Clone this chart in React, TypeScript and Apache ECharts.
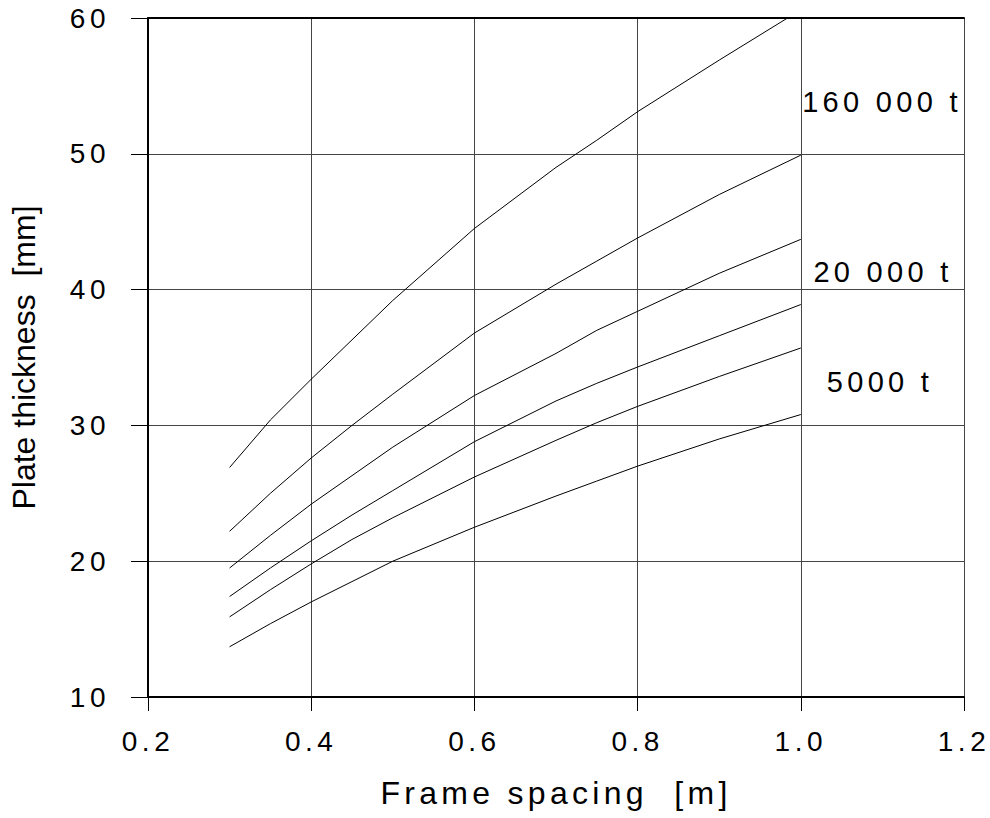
import React, { useEffect, useRef } from "react";
import * as echarts from "echarts";

const xValues = [0.3, 0.35, 0.4, 0.45, 0.5, 0.6, 0.7, 0.75, 0.8, 0.9, 1.0];
const curve160000 = [26.9, 30.4, 33.4, 36.3, 39.2, 44.5, 49.0, 51.0, 53.1, 56.9, 60.6];
const curveB = [22.2, 25.0, 27.6, 30.0, 32.3, 36.8, 40.4, 42.1, 43.8, 47.0, 49.9];
const curve20000 = [19.5, 21.9, 24.2, 26.3, 28.4, 32.2, 35.3, 37.0, 38.4, 41.2, 43.7];
const curveD = [17.4, 19.5, 21.5, 23.4, 25.2, 28.8, 31.8, 33.1, 34.3, 36.6, 38.9];
const curve5000 = [15.9, 17.9, 19.8, 21.6, 23.2, 26.2, 28.9, 30.2, 31.4, 33.6, 35.7];
const curveF = [13.7, 15.4, 17.0, 18.5, 20.0, 22.5, 24.8, 25.9, 27.0, 29.0, 30.8];
const curves = [curve160000, curveB, curve20000, curveD, curve5000, curveF];
const curveLabels = ["160 000 t", "20 000 t", "5000 t"];
const xTitle = "Frame spacing  [m]";
const yTitle = "Plate thickness  [mm]";

const font = "'Liberation Sans', Arial, sans-serif";

function spacingFor(t: string): number {
  if (t === yTitle) return 0;
  if (t === xTitle) return 4.3;
  if (curveLabels.indexOf(t) >= 0) return 4.3;
  return 4.5;
}

export default function App() {
  const ref = useRef<HTMLDivElement>(null);
  useEffect(() => {
    if (!ref.current) return;
    const el = ref.current;
    const chart = echarts.init(el, null, { renderer: "svg" });
    chart.setOption({
      animation: false,
      backgroundColor: "#fff",
      grid: { left: 148, right: 26, top: 18, bottom: 121, containLabel: false, outerBoundsMode: "none" } as any,
      xAxis: [
        {
          type: "value",
          min: 0.2,
          max: 1.2,
          interval: 0.2,
          name: xTitle,
          nameLocation: "middle",
          nameGap: 80,
          nameTextStyle: { fontFamily: font, fontSize: 32, color: "#000" },
          axisLine: { lineStyle: { color: "#000", width: 2 } },
          axisTick: { show: true, length: 14, lineStyle: { color: "#000", width: 1 } },
          axisLabel: {
            margin: 30,
            fontFamily: font,
            fontSize: 28,
            color: "#000",
            formatter: (v: number) => v.toFixed(1),
          },
          splitLine: { show: true, lineStyle: { color: "#444", width: 1 } },
        },
        {
          type: "value",
          position: "top",
          min: 0.2,
          max: 1.2,
          interval: 0.2,
          axisLine: { show: true, lineStyle: { color: "#000", width: 2 } },
          axisTick: { show: false },
          axisLabel: { show: false },
          splitLine: { show: false },
        },
      ],
      yAxis: {
        type: "value",
        min: 10,
        max: 60,
        interval: 10,
        name: yTitle,
        nameLocation: "middle",
        nameGap: 108,
        nameTextStyle: { fontFamily: font, fontSize: 32, color: "#000" },
        axisLine: { show: true, lineStyle: { color: "#000", width: 2 } },
        axisTick: { show: true, length: 17, lineStyle: { color: "#000", width: 1 } },
        axisLabel: { margin: 38, fontFamily: font, fontSize: 28, color: "#000" },
        splitLine: { show: true, lineStyle: { color: "#444", width: 1 } },
      },
      series: curves.map((c) => ({
        type: "line",
        data: xValues.map((x, i) => [x, c[i]]),
        showSymbol: false,
        symbol: "none",
        lineStyle: { color: "#000", width: 1 },
        silent: true,
        clip: true,
      })),
      graphic: [
        { type: "text", x: 882, y: 102, style: { text: curveLabels[0], font: `29px ${font}`, fill: "#000", textAlign: "center", textVerticalAlign: "middle" } },
        { type: "text", x: 883, y: 272, style: { text: curveLabels[1], font: `29px ${font}`, fill: "#000", textAlign: "center", textVerticalAlign: "middle" } },
        { type: "text", x: 880, y: 382, style: { text: curveLabels[2], font: `29px ${font}`, fill: "#000", textAlign: "center", textVerticalAlign: "middle" } },
      ],
    });
    const applySpacing = () => {
      el.querySelectorAll("text").forEach((t) => {
        const s = spacingFor(t.textContent || "");
        if (s > 0) {
          t.setAttribute("letter-spacing", s + "px");
          (t as any).style.letterSpacing = s + "px";
        }
        t.setAttribute("xml:space", "preserve");
        (t as any).style.whiteSpace = "pre";
      });
    };
    applySpacing();
    chart.on("finished", applySpacing);
    const timer = setTimeout(applySpacing, 50);
    return () => {
      clearTimeout(timer);
      chart.dispose();
    };
  }, []);
  return <div ref={ref} style={{ position: "absolute", left: 0, top: 0, width: 990, height: 818 }} />;
}
